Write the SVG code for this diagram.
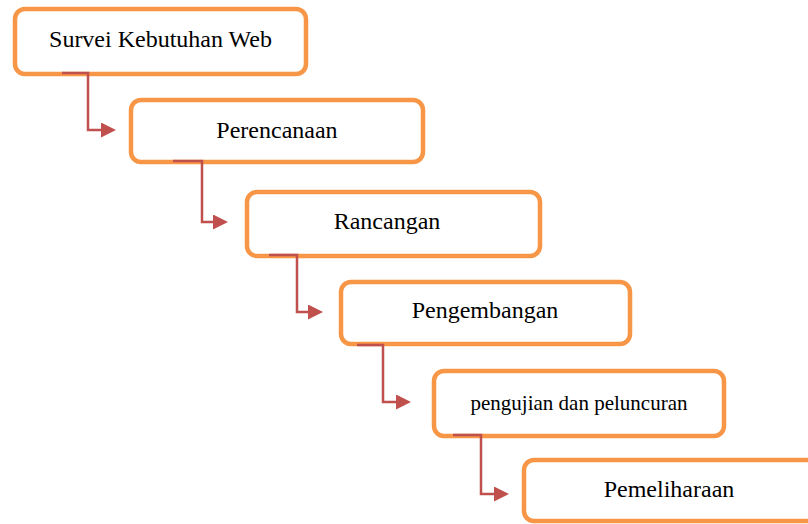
<svg xmlns="http://www.w3.org/2000/svg" width="808" height="524" viewBox="0 0 808 524">
<defs>
<style>
.box{fill:#ffffff;stroke:#F79646;stroke-width:4.5}
.lbl{font-family:"Liberation Serif","Times New Roman",serif;font-size:24px;fill:#000;text-anchor:middle}
.con{fill:none;stroke:#C0504D;stroke-width:2.5}
</style>
<marker id="arr" markerWidth="6" markerHeight="6" refX="0" refY="3" orient="auto" markerUnits="strokeWidth" viewBox="0 0 6 6">
<path d="M0,0 L6,3 L0,6 Z" fill="#C0504D"/>
</marker>
</defs>
<rect width="808" height="524" fill="#ffffff"/>
<g id="n1"><rect class="box" x="15" y="9" width="291" height="65" rx="10"/><text class="lbl" x="160.5" y="47">Survei Kebutuhan Web</text></g>
<g id="n2"><rect class="box" x="131" y="100" width="292" height="62" rx="10"/><text class="lbl" x="277" y="138">Perencanaan</text></g>
<g id="n3"><rect class="box" x="247" y="192" width="293" height="64" rx="10"/><text class="lbl" x="387" y="229">Rancangan</text></g>
<g id="n4"><rect class="box" x="341" y="282" width="289" height="62" rx="10"/><text class="lbl" x="485" y="318">Pengembangan</text></g>
<g id="n5"><rect class="box" x="434" y="371" width="290" height="65" rx="10"/><text class="lbl" x="579" y="410" style="font-size:21px">pengujian dan peluncuran</text></g>
<g id="n6"><rect class="box" x="524" y="460" width="300" height="61" rx="10"/><text class="lbl" x="669" y="497">Pemeliharaan</text></g>
<g id="connectors">
<path class="con" d="M62,73 H88 V130 H101" marker-end="url(#arr)"/>
<path class="con" d="M173,161 H202 V222 H213" marker-end="url(#arr)"/>
<path class="con" d="M269,255 H297 V312 H308" marker-end="url(#arr)"/>
<path class="con" d="M357,345 H383 V402 H396" marker-end="url(#arr)"/>
<path class="con" d="M453,435 H481 V494 H494" marker-end="url(#arr)"/>
</g>
</svg>
